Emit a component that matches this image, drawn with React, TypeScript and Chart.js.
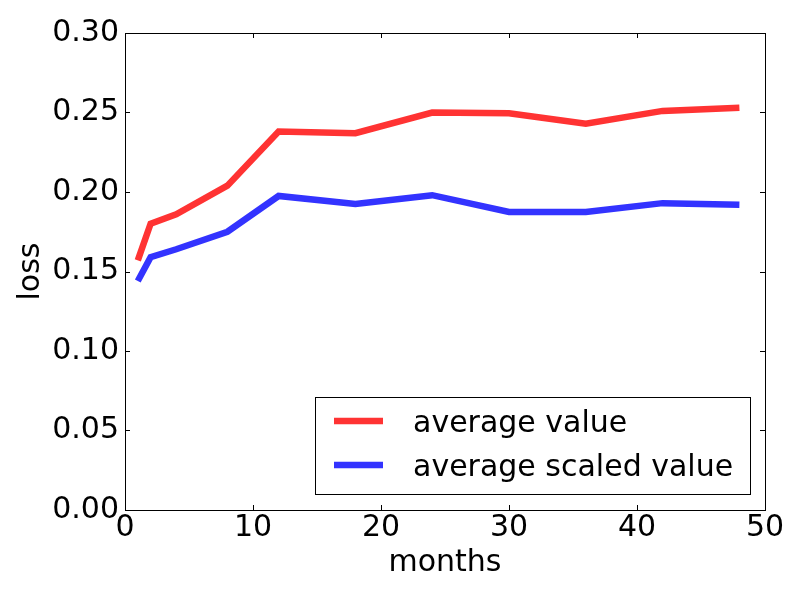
import React, { useEffect, useRef } from "react";
import { Chart, registerables } from "chart.js";

Chart.register(...registerables);

const months = [1, 2, 4, 8, 12, 18, 24, 30, 36, 42, 48];
const averageValue = [0.157, 0.180, 0.186, 0.204, 0.238, 0.237, 0.250, 0.2495, 0.243, 0.251, 0.253];
const averageScaledValue = [0.144, 0.159, 0.164, 0.175, 0.1975, 0.1925, 0.198, 0.1875, 0.1875, 0.193, 0.192];
const seriesLabels = ["average value", "average scaled value"];
const xTicks = [0, 10, 20, 30, 40, 50];
const yTicks = [0, 0.05, 0.1, 0.15, 0.2, 0.25, 0.3];

const RED = "#ff3333";
const BLUE = "#3333ff";
const FONT = "'DejaVu Sans', sans-serif";
const FS = 30;

const framePlugin = {
  id: "frame",
  afterDraw(chart: any) {
    const { ctx, chartArea } = chart;
    const { left, right, top, bottom } = chartArea;
    const xs = chart.scales.x;
    const ys = chart.scales.y;
    ctx.save();
    ctx.strokeStyle = "#000";
    ctx.lineWidth = 1;
    ctx.beginPath();
    const tl = 5;
    xTicks.forEach((v) => {
      const px = Math.round(xs.getPixelForValue(v)) + 0.5;
      ctx.moveTo(px, bottom);
      ctx.lineTo(px, bottom - tl);
      ctx.moveTo(px, top);
      ctx.lineTo(px, top + tl);
    });
    yTicks.forEach((v) => {
      const py = Math.round(ys.getPixelForValue(v)) + 0.5;
      ctx.moveTo(left, py);
      ctx.lineTo(left + tl, py);
      ctx.moveTo(right, py);
      ctx.lineTo(right - tl, py);
    });
    ctx.stroke();
    ctx.strokeRect(Math.round(left) + 0.5, Math.round(top) + 0.5, Math.round(right - left), Math.round(bottom - top));

    // legend
    const bx = Math.round(right) - 450;
    const by = Math.round(bottom) - 113;
    const bw = 435;
    const bh = 97;
    ctx.fillStyle = "#fff";
    ctx.fillRect(bx, by, bw, bh);
    ctx.strokeStyle = "#000";
    ctx.lineWidth = 1;
    ctx.strokeRect(bx + 0.5, by + 0.5, bw, bh);
    const colors = [RED, BLUE];
    ctx.font = `${FS}px ${FONT}`;
    ctx.textBaseline = "alphabetic";
    seriesLabels.forEach((lab, i) => {
      const y = by + 24 + i * 44;
      ctx.strokeStyle = colors[i];
      ctx.lineWidth = 6.5;
      ctx.beginPath();
      ctx.moveTo(bx + 19, y);
      ctx.lineTo(bx + 68, y);
      ctx.stroke();
      ctx.fillStyle = "#000";
      ctx.fillText(lab, bx + 98, y + 10.7);
    });
    ctx.restore();
  },
};

export default function App() {
  const ref = useRef<HTMLCanvasElement>(null);
  useEffect(() => {
    if (!ref.current) return;
    const chart = new Chart(ref.current, {
      type: "line",
      data: {
        datasets: [
          {
            label: seriesLabels[0],
            data: months.map((m, i) => ({ x: m, y: averageValue[i] })),
            borderColor: RED,
            borderWidth: 6.5,
            pointRadius: 0,
            fill: false,
            tension: 0,
            borderJoinStyle: "miter",
          },
          {
            label: seriesLabels[1],
            data: months.map((m, i) => ({ x: m, y: averageScaledValue[i] })),
            borderColor: BLUE,
            borderWidth: 6.5,
            pointRadius: 0,
            fill: false,
            tension: 0,
            borderJoinStyle: "miter",
          },
        ],
      },
      options: {
        animation: false,
        responsive: false,
        devicePixelRatio: 1,
        layout: { padding: { left: 0, right: 35, top: 33, bottom: 0 } },
        plugins: { legend: { display: false }, tooltip: { enabled: false } },
        scales: {
          x: {
            type: "linear",
            min: 0,
            max: 50,
            afterBuildTicks: (s: any) => {
              s.ticks = xTicks.map((v) => ({ value: v }));
            },
            afterFit: (s: any) => {
              s.height = 90;
            },
            grid: { display: false, drawTicks: false, tickLength: 0 },
            border: { display: false },
            ticks: {
              color: "#000",
              font: { family: FONT, size: FS },
              padding: 0,
              maxRotation: 0,
              autoSkip: false,
            },
            title: {
              display: true,
              text: "months",
              color: "#000",
              font: { family: FONT, size: FS },
              padding: { top: 0, bottom: 19 },
            },
          },
          y: {
            type: "linear",
            min: 0,
            max: 0.3,
            afterBuildTicks: (s: any) => {
              s.ticks = yTicks.map((v) => ({ value: v }));
            },
            afterFit: (s: any) => {
              s.width = 125;
            },
            grid: { display: false, drawTicks: false, tickLength: 0 },
            border: { display: false },
            ticks: {
              color: "#000",
              font: { family: FONT, size: FS },
              padding: 6,
              autoSkip: false,
              callback: (v: any) => Number(v).toFixed(2),
            },
            title: {
              display: true,
              text: "loss",
              color: "#000",
              font: { family: FONT, size: FS },
              padding: { top: 13, bottom: 0 },
            },
          },
        },
      },
      plugins: [framePlugin],
    });
    return () => chart.destroy();
  }, []);
  return (
    <div style={{ position: "fixed", left: 0, top: 0, width: 800, height: 600, background: "#fff" }}>
      <canvas ref={ref} width={800} height={600} style={{ width: 800, height: 600 }} />
    </div>
  );
}
